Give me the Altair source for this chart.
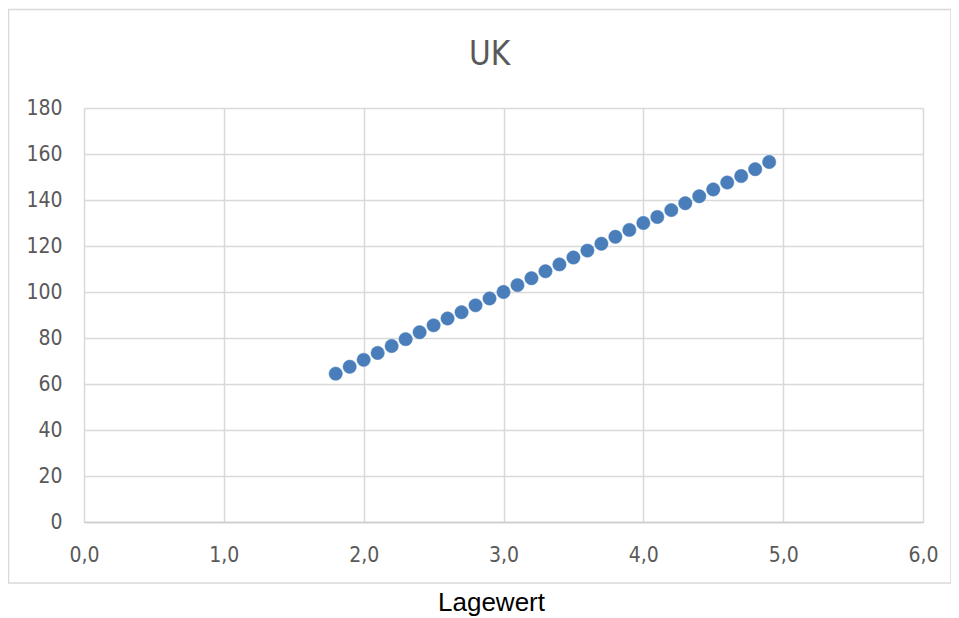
import altair as alt
import pandas as pd

lagewert = [1.8, 1.9, 2.0, 2.1, 2.2, 2.3, 2.4, 2.5, 2.6, 2.7, 2.8, 2.9, 3.0, 3.1, 3.2, 3.3,
            3.4, 3.5, 3.6, 3.7, 3.8, 3.9, 4.0, 4.1, 4.2, 4.3, 4.4, 4.5, 4.6, 4.7, 4.8, 4.9]
uk = [64.5, 67.5, 70.5, 73.5, 76.5, 79.5, 82.5, 85.5, 88.5, 91.2, 94.2, 97.2, 100.0, 103.0, 106.0, 109.0,
      112.0, 115.0, 118.0, 121.0, 124.0, 127.0, 130.0, 132.6, 135.6, 138.6, 141.6, 144.6, 147.6, 150.4, 153.4, 156.5]
x_ticks = [0, 1, 2, 3, 4, 5, 6]
y_ticks = [0, 20, 40, 60, 80, 100, 120, 140, 160, 180]
chart_title = "UK"

df = pd.DataFrame({"Lagewert": lagewert, "UK": uk})

FONT = "DejaVu Sans Condensed, Roboto, sans-serif"

points = alt.Chart(df).mark_circle(
    size=180, color="#4A7EBB", opacity=1, stroke="#4A7EBB", strokeWidth=0.5
).encode(
    x=alt.X("Lagewert:Q",
            scale=alt.Scale(domain=[0, 6], nice=False, zero=False),
            axis=alt.Axis(values=x_ticks,
                          labelExpr="replace(format(datum.value, '.1f'), '.', ',')",
                          title="Lagewert", titleFont="Liberation Sans", titleFontSize=26,
                          titleFontWeight="normal", titleColor="#000000",
                          titleX=407, titleY=88, titleBaseline="alphabetic", titleAlign="center",
                          labelFont=FONT, labelFontSize=21, labelColor="#595959", labelPadding=22,
                          labelFlush=False,
                          ticks=False, domain=True, domainColor="#cccccc", domainWidth=1.5,
                          grid=True, gridColor="#d9d9d9", gridWidth=1.5)),
    y=alt.Y("UK:Q",
            scale=alt.Scale(domain=[0, 180], nice=False),
            axis=alt.Axis(values=y_ticks, format="d", title=None,
                          labelFont=FONT, labelFontSize=21, labelColor="#595959", labelPadding=22,
                          labelFlush=False,
                          ticks=False, domain=False,
                          grid=True, gridColor="#d9d9d9", gridWidth=1.5)),
)

border = alt.Chart(pd.DataFrame({"a": [0]})).mark_rect(
    fill=None, stroke="#d9d9d9", strokeWidth=1.5
).encode(
    x=alt.value(-75.5), x2=alt.value(867), y=alt.value(-98.5), y2=alt.value(475)
)

title_text = alt.Chart(pd.DataFrame({"t": [chart_title]})).mark_text(
    font=FONT, fontSize=33, color="#595959", align="center", baseline="alphabetic"
).encode(
    text="t:N", x=alt.value(405.5), y=alt.value(-43)
)

chart = alt.layer(border, points, title_text).properties(
    width=839,
    height=414,
    padding={"left": 76, "top": 100, "right": 28, "bottom": 96},
    autosize=alt.AutoSizeParams(type="none"),
).configure_view(stroke=None).configure(background="#ffffff")

chart.save("out.html", embed_options={"renderer": "svg", "actions": False})
